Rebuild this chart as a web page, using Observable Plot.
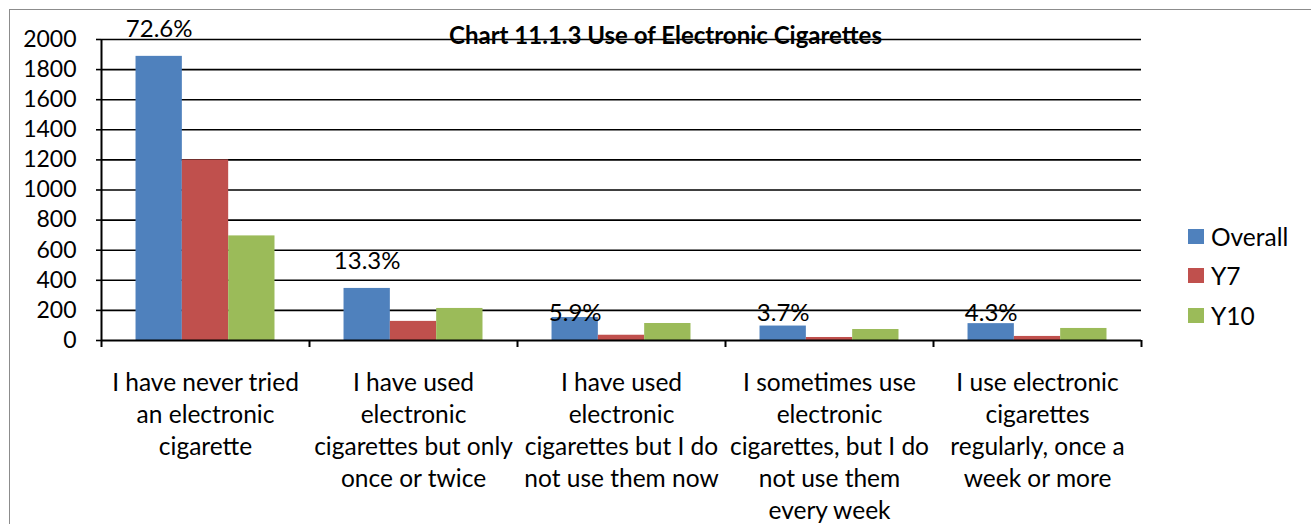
<!DOCTYPE html>
<html><head><meta charset="utf-8">
<script src="https://cdn.jsdelivr.net/npm/d3@7"></script>
<script src="https://cdn.jsdelivr.net/npm/@observablehq/plot@0.6"></script>
<style>
html,body{margin:0;padding:0;background:#fff;overflow:hidden;}
#wrap{position:relative;width:1311px;height:524px;overflow:hidden;font-family:Lato,sans-serif;}
#border{position:absolute;left:9px;top:9px;width:1400px;height:700px;border:1.5px solid #8c8c8c;box-sizing:border-box;}
#chart{position:absolute;left:0;top:0;}
.lg{position:absolute;left:1188px;display:flex;align-items:center;font-size:24.5px;color:#000;height:16px;}
.lg span.sw{display:inline-block;width:16px;height:15px;margin-right:7px;}
</style>
</head><body>
<div id="wrap"><div id="border"></div><div id="chart"></div></div>
<script>
const title = "Chart 11.1.3 Use of Electronic Cigarettes";
const categories = [
  "I have never tried\nan electronic\ncigarette",
  "I have used\nelectronic\ncigarettes but only\nonce or twice",
  "I have used\nelectronic\ncigarettes but I do\nnot use them now",
  "I sometimes use\nelectronic\ncigarettes, but I do\nnot use them\nevery week",
  "I use electronic\ncigarettes\nregularly, once a\nweek or more"
];
const series = ["Overall", "Y7", "Y10"];
const colors = ["#4F81BD", "#C0504D", "#9BBB59"];
const overall = [1888, 346, 153, 96, 112];
const y7 = [1200, 127, 35, 20, 27];
const y10 = [695, 213, 113, 73, 80];
const percentLabels = ["72.6%", "13.3%", "5.9%", "3.7%", "4.3%"];
const yTicks = [0, 200, 400, 600, 800, 1000, 1200, 1400, 1600, 1800, 2000];
const boundaries = [0, 1, 2, 3, 4, 5];

const values = [overall, y7, y10];
const rows = [];
categories.forEach((c, i) => series.forEach((s, k) => rows.push({i, k, series: s, value: values[k][i]})));

const off = 0.166, w = 0.2227; // group offset and bar width within each category band

const chart = Plot.plot({
  width: 1311, height: 524,
  marginLeft: 101, marginRight: 170, marginTop: 39, marginBottom: 184,
  style: {fontFamily: "Lato, sans-serif", fontSize: "23px", color: "#000", background: "transparent"},
  x: {domain: [0, 5], axis: null},
  y: {domain: [0, 2000], axis: null},
  color: {domain: series, range: colors},
  marks: [
    Plot.ruleY(yTicks.slice(1), {stroke: "#000", strokeWidth: 1.6}),
    Plot.rectY(rows, {x1: d => d.i + off + d.k * w, x2: d => d.i + off + (d.k + 1) * w, y: "value", fill: "series"}),
    Plot.ruleY([0], {stroke: "#000", strokeWidth: 2}),
    Plot.ruleX([0], {y1: 0, y2: 2000, stroke: "#000", strokeWidth: 2}),
    Plot.axisX({ticks: boundaries, tickSize: 7, tickFormat: () => "", stroke: "#000", strokeWidth: 2, label: null}),
    Plot.axisY({ticks: yTicks, tickSize: 5, tickPadding: 20, tickFormat: d => String(d), fontSize: 23, stroke: "#000", strokeWidth: 1.6, label: null}),
    Plot.text(categories, {x: (d, i) => i + 0.5, y: 0, dy: 28, lineAnchor: "top", lineHeight: 1.306, fontSize: 24.5, fill: "#000"}),
    Plot.text(percentLabels, {x: (d, i) => i + off + w / 2, y: (d, i) => overall[i] > 300 ? overall[i] : 0, dy: -27, fontSize: 24, fill: "#000"}),
    Plot.text([title], {frameAnchor: "top", lineAnchor: "middle", dx: 44, dy: -3, fontSize: 24, fontWeight: "bold", fill: "#000"})
  ]
});
document.getElementById("chart").appendChild(chart);

const wrap = document.getElementById("wrap");
series.forEach((s, k) => {
  const d = document.createElement("div");
  d.className = "lg";
  d.style.top = (228 + k * 39.5) + "px";
  d.innerHTML = `<span class="sw" style="background:${colors[k]}"></span><span>${s}</span>`;
  wrap.appendChild(d);
});
</script>
</body></html>
